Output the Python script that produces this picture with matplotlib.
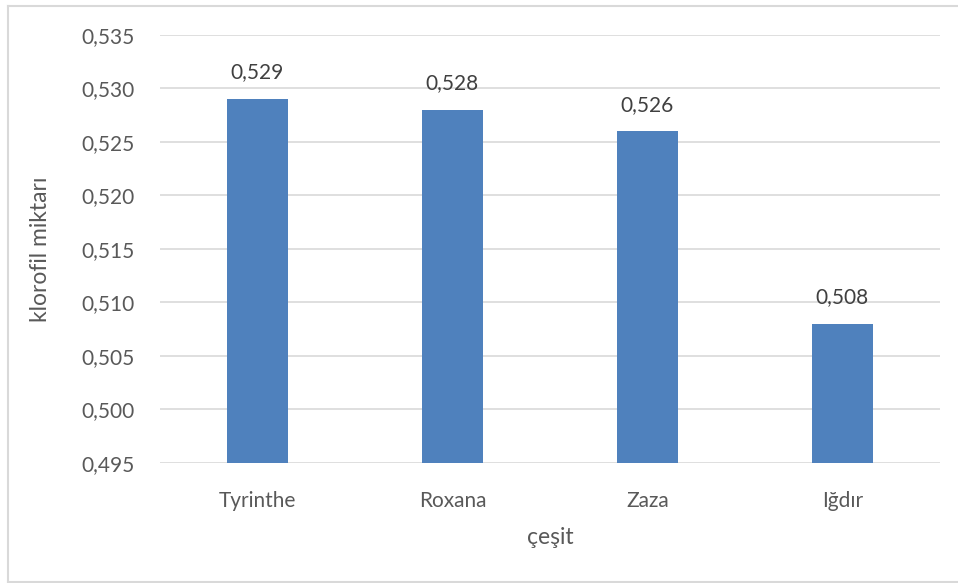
import matplotlib
matplotlib.use("Agg")
import matplotlib.pyplot as plt
from matplotlib.lines import Line2D
from matplotlib.ticker import FuncFormatter

# data
cesit = ["Tyrinthe", "Roxana", "Zaza", "Iğdır"]
klorofil = [0.529, 0.528, 0.526, 0.508]
y_ticks = [0.495, 0.500, 0.505, 0.510, 0.515, 0.520, 0.525, 0.530, 0.535]

plt.rcParams['font.family'] = ['Lato', 'DejaVu Sans']
txt = '#595959'

fig = plt.figure(figsize=(9.58, 5.83), dpi=100)
ax = fig.add_axes([0.167, 0.206, 0.814, 0.734])

x = range(len(cesit))
bars = ax.bar(x, klorofil, width=0.31, color='#4F81BD', zorder=3)

ax.set_ylim(0.495, 0.535)
ax.set_xlim(-0.5, len(cesit) - 0.5)
ax.set_yticks(y_ticks)
ax.yaxis.set_major_formatter(FuncFormatter(lambda v, p: f"{v:.3f}".replace('.', ',')))
ax.set_xticks(list(x))
ax.set_xticklabels(cesit)
ax.tick_params(axis='both', length=0, labelsize=15, colors=txt)
ax.tick_params(axis='y', pad=18)
ax.tick_params(axis='x', pad=20)

ax.grid(axis='y', color='#D9D9D9', linewidth=1.2, zorder=0)
for s in ax.spines.values():
    s.set_visible(False)

# value labels on top of bars
for b, v in zip(bars, klorofil):
    ax.annotate(f"{v:.3f}".replace('.', ','), (b.get_x() + b.get_width() / 2, v),
                xytext=(0, 12), textcoords='offset points', ha='center', va='bottom',
                fontsize=15, color='#404040')

ax.set_ylabel("klorofil miktarı", fontsize=16.5, color=txt, labelpad=22)
ax.set_xlabel("çeşit", fontsize=16.5, color=txt, labelpad=12)

# light chart border (top, left, bottom)
bc = '#D9D9D9'
fig.add_artist(Line2D([8 / 958, 1], [1 - 6 / 583] * 2, color=bc, lw=1.5, transform=fig.transFigure))
fig.add_artist(Line2D([8 / 958] * 2, [1 - 6 / 583, 1 / 583], color=bc, lw=1.5, transform=fig.transFigure))
fig.add_artist(Line2D([8 / 958, 1], [1 / 583] * 2, color=bc, lw=1.5, transform=fig.transFigure))

fig.savefig("out.png", dpi=100)
